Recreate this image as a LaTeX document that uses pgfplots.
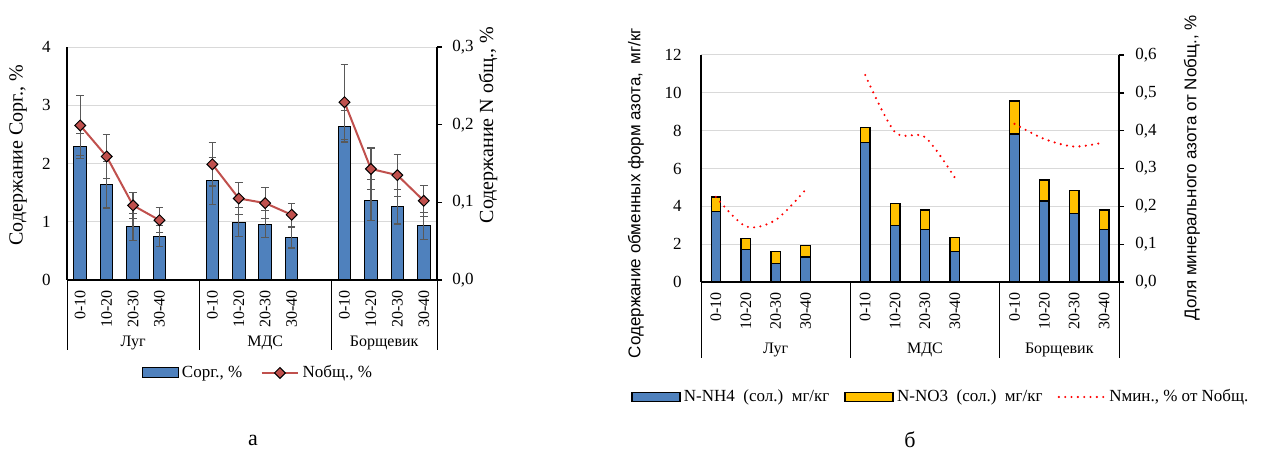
\documentclass[border=0pt]{standalone}
\usepackage{pgfplots}
\usepackage{pgfplotstable}
\pgfplotsset{compat=1.18}
\usepackage{fontspec}
\setmainfont{Liberation Serif}
\newfontfamily\arialfont{Liberation Sans}
\definecolor{barblue}{HTML}{4F81BD}
\definecolor{baryellow}{HTML}{FFC000}
\definecolor{linered}{HTML}{C0504D}
\definecolor{errgray}{HTML}{595959}
\definecolor{gridgray}{HTML}{D9D9D9}

\pgfplotstableread{
x y e
0 2.30 0.22
1 1.635 0.40
2 0.91 0.23
3 0.75 0.18
5 1.70 0.41
6 0.99 0.25
7 0.96 0.23
8 0.73 0.18
10 2.64 0.27
11 1.37 0.35
12 1.26 0.30
13 0.93 0.23
}\corg
\pgfplotstableread{
x y e
0 0.199 0.039
1 0.159 0.028
2 0.096 0.017
3 0.077 0.016
}\nA
\pgfplotstableread{
x y e
5 0.149 0.028
6 0.105 0.021
7 0.099 0.020
8 0.084 0.015
}\nB
\pgfplotstableread{
x y e
10 0.229 0.048
11 0.143 0.027
12 0.135 0.027
13 0.102 0.020
}\nC
\pgfplotstableread{
x nh no
0 3.73 0.77
1 1.72 0.57
2 0.97 0.63
3 1.32 0.62
5 7.36 0.80
6 2.97 1.18
7 2.76 1.04
8 1.60 0.76
10 7.82 1.74
11 4.28 1.11
12 3.63 1.21
13 2.76 1.04
}\nitro
\pgfplotstableread{
x y
0 0.225
1 0.147
2 0.164
3 0.244
}\mA
\pgfplotstableread{
x y
5 0.547
6 0.396
7 0.383
8 0.276
}\mB
\pgfplotstableread{
x y
10 0.418
11 0.378
12 0.358
13 0.369
}\mC

\pgfplotsset{
  catbase/.style={
    scale only axis, clip=false, anchor=origin,
    xmin=-0.5, xmax=13.5, ymin=0,
    /pgf/number format/assume math mode=true,
    tick label style={font=\fontsize{10.2}{12}\selectfont},
    axis line style={black, line width=0.8pt},
  },
  cats/.style={
    xtick={0,1,2,3,5,6,7,8,10,11,12,13},
    xticklabels={0-10,10-20,20-30,30-40,0-10,10-20,20-30,30-40,0-10,10-20,20-30,30-40},
    xticklabel style={rotate=90, anchor=east, font=\fontsize{9.6}{11}\selectfont, inner sep=0pt, inner xsep=6pt},
    axis x line*=bottom, axis y line*=left,
    ymajorgrids, grid style={gridgray, line width=0.6pt},
    major tick length=0pt,
    yticklabel style={inner sep=0pt},
  },
  secaxis/.style={
    axis y line*=right, axis x line=none,
    tick align=outside, major tick length=3pt,
    every tick/.style={black, line width=0.8pt},
    yticklabel style={inner sep=0pt,
      /pgf/number format/fixed, /pgf/number format/fixed zerofill,
      /pgf/number format/precision=1, /pgf/number format/use comma},
  },
  boxlegA/.style={legend image code/.code={\draw[##1] (0pt,-3pt) rectangle (21.6pt,3pt);}},
  boxlegB/.style={legend image code/.code={\draw[##1] (0pt,-2.7pt) rectangle (28.8pt,2.7pt);}},
  lineleg/.style={legend image code/.code={\draw[mark repeat=2,mark phase=2,##1] plot coordinates {(0pt,0pt) (11pt,0pt) (22pt,0pt)};}},
  dotleg/.style={legend image code/.code={\draw[##1] (0pt,0pt) -- (27.6pt,0pt);}},
  errstyle/.style={error bars/.cd, y dir=both, y explicit,
    error bar style={errgray, line width=0.7pt, solid},
    error mark options={rotate=90, errgray, mark size=2.3pt, line width=0.7pt, solid},
    /pgfplots/.cd},
  nline/.style={linered, line width=1.2pt, mark=square*, mark size=2.3pt,
    mark options={rotate=45, fill=linered, draw=black, line width=0.6pt}},
  dotline/.style={red, line width=1.4pt, dash pattern=on 0pt off 3.8pt, line cap=round},
}

\begin{document}
\begin{tikzpicture}[x=1pt,y=1pt]
\path[use as bounding box] (0pt,0pt) rectangle (759.6pt,273pt);

% ---------------- left chart (a) ----------------
\begin{axis}[catbase, cats,
  at={(48.13pt,105pt)}, width=222pt, height=139.8pt,
  ymax=4, ytick={0,1,2,3,4},
  yticklabel style={xshift=-9.6pt},
  ybar, bar width=7.6pt]
\addplot[fill=barblue, draw=black, line width=0.6pt, errstyle]
  table[x=x, y=y, y error=e] {\corg};
\draw[black, line width=0.6pt] (axis cs:-0.5,0) -- ([yshift=-42pt]axis cs:-0.5,0);
\draw[black, line width=0.6pt] (axis cs:4.5,0) -- ([yshift=-42pt]axis cs:4.5,0);
\draw[black, line width=0.6pt] (axis cs:9.5,0) -- ([yshift=-42pt]axis cs:9.5,0);
\draw[black, line width=0.6pt] (axis cs:13.5,0) -- ([yshift=-42pt]axis cs:13.5,0);
\node[font=\fontsize{9.6}{11}\selectfont] at ([yshift=-37.8pt]axis cs:2,0) {Луг};
\node[font=\fontsize{9.6}{11}\selectfont] at ([yshift=-37.8pt]axis cs:7,0) {МДС};
\node[font=\fontsize{9.6}{11}\selectfont] at ([yshift=-37.8pt]axis cs:11.5,0) {Борщевик};
\end{axis}

\begin{axis}[catbase, secaxis,
  at={(48.13pt,105pt)}, width=222pt, height=139.8pt,
  ymax=0.3, ytick={0,0.1,0.2,0.3},
  yticklabel style={xshift=6pt},
  legend style={at={(0.5176,-0.399)}, anchor=center, draw=none, fill=none,
    legend columns=-1, font=\fontsize{10.2}{12}\selectfont,
    /tikz/every even column/.append style={column sep=9pt}}]
\addlegendimage{fill=barblue, draw=black, line width=0.6pt, boxlegA}
\addlegendentry{Сорг., \%}
\addplot[nline, lineleg, errstyle] table[x=x, y=y, y error=e] {\nA};
\addlegendentry{Nобщ., \%}
\addplot[forget plot, nline, errstyle] table[x=x, y=y, y error=e] {\nB};
\addplot[forget plot, nline, errstyle] table[x=x, y=y, y error=e] {\nC};
\end{axis}

\node[rotate=90, font=\fontsize{12}{14}\selectfont] at (10.8pt,180pt) {Содержание Сорг., \%};
\node[rotate=90, font=\fontsize{12}{14}\selectfont] at (292.8pt,198pt) {Содержание N общ., \%};
\node[font=\fontsize{13.2}{15}\selectfont] at (151.8pt,9pt) {а};

% ---------------- right chart (б) ----------------
\begin{axis}[catbase, cats,
  at={(429.56pt,103.8pt)}, width=250.8pt, height=136.2pt,
  ymax=12, ytick={0,2,4,6,8,10,12},
  yticklabel style={xshift=-11.4pt},
  ybar stacked, bar width=5.7pt]
\addplot[fill=barblue, draw=black, line width=0.8pt] table[x=x, y=nh] {\nitro};
\addplot[fill=baryellow, draw=black, line width=0.8pt] table[x=x, y=no] {\nitro};
\draw[black, line width=0.6pt] (axis cs:-0.5,0) -- ([yshift=-45.6pt]axis cs:-0.5,0);
\draw[black, line width=0.6pt] (axis cs:4.5,0) -- ([yshift=-45.6pt]axis cs:4.5,0);
\draw[black, line width=0.6pt] (axis cs:9.5,0) -- ([yshift=-45.6pt]axis cs:9.5,0);
\draw[black, line width=0.6pt] (axis cs:13.5,0) -- ([yshift=-45.6pt]axis cs:13.5,0);
\node[font=\fontsize{9.6}{11}\selectfont] at ([yshift=-40.8pt]axis cs:2,0) {Луг};
\node[font=\fontsize{9.6}{11}\selectfont] at ([yshift=-40.8pt]axis cs:7,0) {МДС};
\node[font=\fontsize{9.6}{11}\selectfont] at ([yshift=-40.8pt]axis cs:11.5,0) {Борщевик};
\end{axis}

\begin{axis}[catbase, secaxis,
  at={(429.56pt,103.8pt)}, width=250.8pt, height=136.2pt,
  ymax=0.6, ytick={0,0.1,0.2,0.3,0.4,0.5,0.6},
  yticklabel style={xshift=6.6pt},
  legend style={at={(0.5754,-0.5066)}, anchor=center, draw=none, fill=none,
    legend columns=-1, font=\fontsize{10.2}{12}\selectfont,
    /tikz/every even column/.append style={column sep=7pt}}]
\addlegendimage{fill=barblue, draw=black, line width=0.8pt, boxlegB}
\addlegendentry{N-NH4\enspace(сол.)\enspace мг/кг}
\addlegendimage{fill=baryellow, draw=black, line width=0.8pt, boxlegB}
\addlegendentry{N-NO3\enspace(сол.)\enspace мг/кг}
\addplot[dotline, smooth, tension=0.5, dotleg] table[x=x, y=y] {\mA};
\addlegendentry{Nмин., \% от Nобщ.}
\addplot[forget plot, dotline, smooth, tension=0.5] table[x=x, y=y] {\mB};
\addplot[forget plot, dotline, smooth, tension=0.5] table[x=x, y=y] {\mC};
\end{axis}

\node[rotate=90, font=\arialfont\fontsize{10.2}{12}\selectfont] at (381.6pt,157.2pt) {Содержание обменных форм азота,\enspace мг/кг};
\node[rotate=90, font=\arialfont\fontsize{10.2}{12}\selectfont] at (715.2pt,172.2pt) {Доля минерального азота от Nобщ., \%};
\node[font=\fontsize{13.2}{15}\selectfont] at (546pt,9pt) {б};
\end{tikzpicture}
\end{document}
